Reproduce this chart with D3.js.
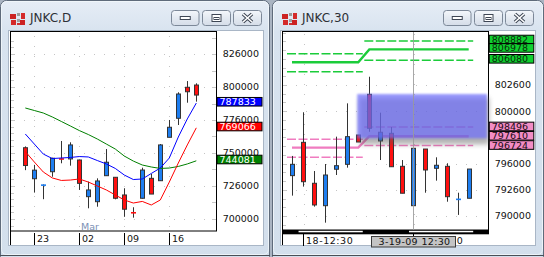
<!DOCTYPE html>
<html>
<head>
<meta charset="utf-8">
<script src="https://cdn.jsdelivr.net/npm/d3@7"></script>
<style>
body { margin: 0; background: #aab4c2; }
svg { display: block; }
text { font-family: "DejaVu Sans", sans-serif; }
</style>
</head>
<body>
<svg id="screen" width="544" height="257"></svg>
<script>
// ---- daily chart data (JNKC,D) ----
var dDates = ['02-20', '02-23', '02-24', '02-25', '02-26', '02-27', '03-02', '03-03', '03-04', '03-05',
              '03-06', '03-09', '03-10', '03-11', '03-12', '03-13', '03-16', '03-17', '03-18', '03-19'];
var dOpen  = [754000, 730500, 725300, 735800, 746000, 745500, 744700, 716900, 713100, 732800,
              731600, 718200, 705100, 715700, 730800, 729000, 761900, 776300, 799800, 801500];
var dHigh  = [755000, 741000, 726200, 746400, 759100, 758100, 745000, 728300, 730800, 753000,
              731800, 723300, 708900, 738900, 734100, 756800, 775000, 796000, 804500, 802800];
var dLow   = [737000, 720000, 715000, 732000, 742200, 740400, 722000, 708100, 709300, 732600,
              714900, 701700, 701000, 715500, 718900, 728800, 761900, 771200, 788100, 788900];
var dClose = [740500, 737000, 726000, 746000, 744900, 756100, 727000, 722000, 728800, 743000,
              715700, 707400, 704300, 737100, 718900, 756100, 769500, 794700, 796400, 793900];
var dMaBlue  = [764400, 756800, 749200, 745800, 746200, 746600, 747300, 747000, 744300, 741700,
                738300, 733300, 729900, 730300, 734500, 738600, 746200, 762100, 775800, 787833];
var dMaRed   = [751100, 743200, 735600, 731100, 729200, 729500, 730300, 728000, 725000, 722000,
                718200, 714400, 712100, 713300, 710600, 714400, 728000, 742400, 756100, 769066];
var dMaGreen = [784100, 782200, 780300, 777300, 773900, 770500, 767000, 764000, 760600, 756800,
                753000, 747700, 743900, 740900, 739400, 738300, 738600, 739800, 741700, 744081];
var dPriceTicks = [700000, 725000, 750000, 775000, 800000, 825000];
var dPriceLabels = ['700000', '726000', '750000', '776000', '800000', '826000'];
var dDateTicks = ['02-23', '03-02', '03-09', '03-16'];
var dDateLabels = ['23', '02', '09', '16'];

// ---- 30 minute chart data (JNKC,30) ----
var mTimes = ['18-10:30', '18-12:30', '18-13:00', '18-13:30', '18-14:00', '18-14:30', '18-15:00',
              '19-09:00', '19-09:30', '19-10:00', '19-10:30', '19-12:30', '19-13:00', '19-13:30',
              '19-14:00', '19-14:30', '19-15:00'];
var mOpen  = [793850, 797030, 793120, 790980, 794460, 794930, 797730, 801610, 797160, 797890,
              794740, 790980, 796390, 794550, 794740, 791570, 791690];
var mHigh  = [795730, 799900, 794290, 794960, 797570, 800750, 797730, 803290, 799860, 798490,
              795340, 796460, 796390, 795600, 795030, 792220, 794480];
var mLow   = [791940, 792800, 790890, 789360, 793910, 794610, 797060, 798040, 795340, 794700,
              792170, 790980, 792220, 793370, 791360, 790100, 791690];
var mClose = [794930, 793270, 791050, 793910, 794800, 797570, 797060, 798370, 797990, 794700,
              792170, 796460, 794390, 794840, 791840, 791600, 794480];
// one level per session
var sessionFirst = ['18-10:30', '19-09:00'];
var sessionLast  = ['18-15:00', '19-15:00'];
var greenUpper = [805490, 806700];
var greenMid   = [804670, 805900];
var greenLower = [803770, 804860];
var pinkUpper  = [797320, 798496];
var pinkMid    = [796520, 797610];
var pinkLower  = [795600, 796724];
var greenTags = ['808882', '806978', '806080'];
var pinkTags  = ['798496', '797610', '796724'];
var pmFirst = ['18-12:30', '19-12:30'];
var pmLast  = ['18-15:00', '19-15:00'];
var mPriceTicks = [790000, 792500, 795000, 800000, 802500];
var mPriceLabels = ['790000', '792600', '796000', '800000', '802600'];
var mTimeTicks = ['18-12:30', '19-12:30'];
var cursorTime = '19-12:30';
var cursorLabel = '3-19-09 12:30';
var zoneStart = '18-15:00';
var zoneHigh = 801640, zoneLow = 797410;

var UP = '#1e7ef0', DOWN = '#ff1010';

var svg = d3.select('#screen');
var defs = svg.append('defs');
var fg = defs.append('linearGradient').attr('id', 'frame').attr('x1', 0).attr('y1', 0).attr('x2', 0).attr('y2', 1);
fg.append('stop').attr('offset', 0).attr('stop-color', '#e6edf6');
fg.append('stop').attr('offset', 0.12).attr('stop-color', '#d8e3ef');
fg.append('stop').attr('offset', 1).attr('stop-color', '#d3dfec');
var bg = defs.append('linearGradient').attr('id', 'btn').attr('x1', 0).attr('y1', 0).attr('x2', 0).attr('y2', 1);
bg.append('stop').attr('offset', 0).attr('stop-color', '#f4f7fb');
bg.append('stop').attr('offset', 0.5).attr('stop-color', '#e3e9f1');
bg.append('stop').attr('offset', 1).attr('stop-color', '#d5dde8');
defs.append('filter').attr('id', 'soft').attr('x', '-10%').attr('y', '-20%').attr('width', '120%').attr('height', '140%')
    .append('feGaussianBlur').attr('stdDeviation', 0.9);
defs.append('filter').attr('id', 'shade').attr('x', '-10%').attr('y', '-30%').attr('width', '120%').attr('height', '160%')
    .append('feGaussianBlur').attr('stdDeviation', 2.5);

// window frame, title bar and buttons
function drawWindow(x0, w, title) {
    var g = svg.append('g').attr('transform', 'translate(' + x0 + ',0)');
    g.append('rect').attr('x', 0.5).attr('y', 0.5).attr('width', w - 1).attr('height', 262)
        .attr('rx', 6).attr('fill', 'url(#frame)').attr('stroke', '#5f6b7b');
    g.append('rect').attr('x', 1.5).attr('y', 1.5).attr('width', w - 3).attr('height', 253)
        .attr('rx', 5).attr('fill', 'none').attr('stroke', '#f3f7fb').attr('stroke-opacity', 0.8);
    g.append('line').attr('x1', 0).attr('x2', w).attr('y1', 255.5).attr('y2', 255.5).attr('stroke', '#4a4f57');
    g.append('rect').attr('x', 8.5).attr('y', 30.5).attr('width', 255).attr('height', 215)
        .attr('fill', '#fff').attr('stroke', '#a9b6c6');

    // icon
    var icon = [[10, 14, 6, 5, '#cc2222'], [17, 13, 3, 3, '#9a9a9a'], [21, 13, 4, 6, '#d42a2a'],
                [11, 20, 5, 5, '#d42a2a'], [17, 19, 3, 3, '#a0a0a0'], [20, 20, 5, 5, '#cc2222'],
                [17, 23, 3, 2, '#c33']];
    icon.forEach(function(r){
        g.append('rect').attr('x', r[0]).attr('y', r[1]).attr('width', r[2]).attr('height', r[3]).attr('fill', r[4]);
    });
    g.append('text').attr('x', 30).attr('y', 21.7).attr('font-size', '12px').attr('fill', '#2d3036').text(title);

    var btns = [171.5, 202.5, 233.5];
    btns.forEach(function(bx, i){
        var bw = i == 0 ? 27.5 : 28;
        g.append('rect').attr('x', bx).attr('y', 10.5).attr('width', bw).attr('height', 15)
            .attr('rx', 3).attr('fill', 'url(#btn)').attr('stroke', '#7c8898');
        var cx = bx + bw / 2;
        if (i == 0) {
            g.append('rect').attr('x', cx - 5).attr('y', 16.5).attr('width', 10).attr('height', 3)
                .attr('fill', '#fff').attr('stroke', '#3e4654');
        } else if (i == 1) {
            g.append('rect').attr('x', cx - 4.5).attr('y', 14.5).attr('width', 9).attr('height', 7)
                .attr('fill', '#fff').attr('stroke', '#3e4654');
            g.append('rect').attr('x', cx - 2.5).attr('y', 17.5).attr('width', 5).attr('height', 2)
                .attr('fill', 'none').attr('stroke', '#3e4654');
        } else {
            var p = 'M' + (cx - 4.5) + ',14 L' + (cx + 4.5) + ',22 M' + (cx + 4.5) + ',14 L' + (cx - 4.5) + ',22';
            g.append('path').attr('d', p).attr('stroke', '#3e4654').attr('stroke-width', 3.6).attr('fill', 'none');
            g.append('path').attr('d', p).attr('stroke', '#fff').attr('stroke-width', 1.6).attr('fill', 'none');
        }
    });
    return g;
}

function drawCandles(g, keys, x, y, o, h, l, c) {
    keys.forEach(function(k, i){
        var cx = Math.round(x(k)) + 0.5;
        var col = c[i] >= o[i] ? UP : DOWN;
        g.append('line').attr('x1', cx).attr('x2', cx).attr('y1', y(h[i])).attr('y2', y(l[i]))
            .attr('stroke', '#333');
        var top = y(Math.max(o[i], c[i])), bot = y(Math.min(o[i], c[i]));
        if (bot - top < 2) {
            g.append('rect').attr('x', cx - 2.5).attr('y', (top + bot) / 2 - 0.8).attr('width', 5).attr('height', 1.6)
                .attr('fill', col);
        } else {
            g.append('rect').attr('x', cx - 2).attr('y', top).attr('width', 4).attr('height', bot - top)
                .attr('fill', col).attr('stroke', '#333');
        }
    });
}

function priceTag(g, x, yy, w, fill, color, txt) {
    g.append('rect').attr('x', x + 0.5).attr('y', yy - 4.8).attr('width', w).attr('height', 8.6)
        .attr('fill', fill).attr('stroke', '#000');
    g.append('text').attr('x', x + 3).attr('y', yy + 3).attr('font-size', '9.5px').attr('fill', color).text(txt);
}

// ================= daily window =================
var w1 = drawWindow(0, 270, 'JNKC,D');
var dx = d3.scalePoint().domain(dDates).range([25.3, 196.3]);
var dy = d3.scaleLinear().domain([690900, 841900]).range([231, 31.7]);

w1.append('rect').attr('x', 10.5).attr('y', 31.5).attr('width', 206).attr('height', 199.5)
    .attr('fill', '#fff').attr('stroke', '#000');
w1.append('line').attr('x1', 10.5).attr('x2', 10.5).attr('y1', 231).attr('y2', 245).attr('stroke', '#000');

// dotted grid and small ticks
w1.selectAll('.hgrid').data(dPriceTicks).enter().append('line')
    .attr('x1', 14).attr('x2', 212).attr('y1', function(d){ return Math.round(dy(d)) + 0.5; })
    .attr('y2', function(d){ return Math.round(dy(d)) + 0.5; })
    .attr('stroke', '#c4c4c4').attr('stroke-dasharray', '1,9');
w1.selectAll('.vgrid').data(dDateTicks).enter().append('line')
    .attr('x1', function(d){ return Math.round(dx(d)) + 0.5; }).attr('x2', function(d){ return Math.round(dx(d)) + 0.5; })
    .attr('y1', 36).attr('y2', 228).attr('stroke', '#c4c4c4').attr('stroke-dasharray', '1,9');
w1.selectAll('.lt').data(d3.range(695000, 840000, 5000)).enter().append('line')
    .attr('x1', 11).attr('x2', 14).attr('y1', function(d){ return Math.round(dy(d)) + 0.5; })
    .attr('y2', function(d){ return Math.round(dy(d)) + 0.5; }).attr('stroke', '#c8c8c8');
w1.selectAll('.rt').data(d3.range(700000, 840000, 12500)).enter().append('line')
    .attr('x1', 212).attr('x2', 216).attr('y1', function(d){ return Math.round(dy(d)) + 0.5; })
    .attr('y2', function(d){ return Math.round(dy(d)) + 0.5; }).attr('stroke', '#c8c8c8');

w1.append('text').attr('x', dx('03-02') + 1.7).attr('y', 230).attr('font-size', '9.5px')
    .attr('fill', '#7b90b5').text('Mar');

drawCandles(w1, dDates, dx, dy, dOpen, dHigh, dLow, dClose);

[[dMaGreen, '#008000'], [dMaBlue, '#0000ff'], [dMaRed, '#ff0000']].forEach(function(s){
    var line = d3.line().x(function(d, i){ return dx(dDates[i]); }).y(function(d){ return dy(d); });
    w1.append('path').datum(s[0]).attr('d', line).attr('fill', 'none').attr('stroke', s[1]).attr('stroke-width', 1);
});

// date axis
dDateTicks.forEach(function(d, i){
    var tx = Math.round(dx(d)) + 0.5;
    w1.append('line').attr('x1', tx).attr('x2', tx).attr('y1', 233).attr('y2', 245).attr('stroke', '#000');
    w1.append('text').attr('x', tx + 2.5).attr('y', 242).attr('font-size', '9.5px').attr('fill', '#111').text(dDateLabels[i]);
});

// price axis
dPriceTicks.forEach(function(d, i){
    w1.append('text').attr('x', 222.7).attr('y', dy(d) + 3.4).attr('font-size', '9.5px').attr('fill', '#111')
        .text(dPriceLabels[i]);
});
var fmt = d3.format('d');
priceTag(w1, 216.5, dy(dMaBlue[19]) - 0.8, 45, '#0000ff', '#fff', fmt(dMaBlue[19]));
priceTag(w1, 216.5, dy(dMaRed[19]) - 0.8, 45, '#ff0000', '#fff', fmt(dMaRed[19]));
priceTag(w1, 216.5, dy(dMaGreen[19]) - 0.8, 45, '#008000', '#fff', fmt(dMaGreen[19]));

// ================= 30 minute window =================
var w2 = drawWindow(272, 272, 'JNKC,30');
var mx = d3.scalePoint().domain(mTimes).range([20, 196.7]);
var my = d3.scaleLinear().domain([788660, 807590]).range([230, 31.7]);

w2.append('rect').attr('x', 10.5).attr('y', 31.5).attr('width', 206).attr('height', 198.5)
    .attr('fill', '#fff').attr('stroke', '#000');

w2.selectAll('.hgrid').data(mPriceTicks).enter().append('line')
    .attr('x1', 14).attr('x2', 212).attr('y1', function(d){ return Math.round(my(d)) + 0.5; })
    .attr('y2', function(d){ return Math.round(my(d)) + 0.5; })
    .attr('stroke', '#c4c4c4').attr('stroke-dasharray', '1,9');
w2.selectAll('.vgrid').data(mTimeTicks).enter().append('line')
    .attr('x1', function(d){ return Math.round(mx(d)) + 1.5; }).attr('x2', function(d){ return Math.round(mx(d)) + 1.5; })
    .attr('y1', 34).attr('y2', 228).attr('stroke', '#c4c4c4').attr('stroke-dasharray', '1,9');
w2.selectAll('.lt').data(d3.range(789166, 807500, 833.3)).enter().append('line')
    .attr('x1', 11).attr('x2', 14).attr('y1', function(d){ return Math.round(my(d)) + 0.5; })
    .attr('y2', function(d){ return Math.round(my(d)) + 0.5; }).attr('stroke', '#c8c8c8');

// session bands
function bandLines(upper, mid, lower, color) {
    sessionFirst.forEach(function(s, i){
        var x1 = mx(s) - 5, x2 = mx(sessionLast[i]) + 4.5;
        [upper[i], lower[i]].forEach(function(v){
            w2.append('line').attr('x1', x1).attr('x2', x2).attr('y1', my(v)).attr('y2', my(v))
                .attr('stroke', color).attr('stroke-width', 1.4).attr('stroke-dasharray', '9,2.5');
        });
    });
    var perBar = mTimes.map(function(t){
        var idx = sessionFirst.length - 1;
        while (idx > 0 && mTimes.indexOf(t) < mTimes.indexOf(sessionFirst[idx])) idx--;
        return mid[idx];
    });
    var line = d3.line().x(function(d, i){ return mx(mTimes[i]); }).y(function(d){ return my(d); });
    w2.append('path').datum(perBar).attr('d', line).attr('fill', 'none')
        .attr('stroke', color).attr('stroke-width', 2.4);
}
bandLines(greenUpper, greenMid, greenLower, '#1bcc3a');
bandLines(pinkUpper, pinkMid, pinkLower, '#f07cc0');

drawCandles(w2, mTimes, mx, my, mOpen, mHigh, mLow, mClose);

// highlighted price zone
var zx = mx(zoneStart) - 1;
w2.append('rect').attr('x', zx + 2).attr('y', my(zoneHigh) + 4).attr('width', 215 - zx)
    .attr('height', my(zoneLow) - my(zoneHigh) + 2).attr('fill', '#555').attr('opacity', 0.45)
    .attr('filter', 'url(#shade)');
w2.append('rect').attr('x', zx).attr('y', my(zoneHigh)).attr('width', 215 - zx)
    .attr('height', my(zoneLow) - my(zoneHigh)).attr('fill', '#6c6cff').attr('opacity', 0.68)
    .attr('filter', 'url(#soft)');

// session marker bar under the plot
w2.append('rect').attr('x', 10).attr('y', 230).attr('width', 207).attr('height', 4.3).attr('fill', '#000');
pmFirst.forEach(function(s, i){
    w2.append('rect').attr('x', mx(s) - 4.5).attr('y', 230.8).attr('width', mx(pmLast[i]) - mx(s) + 9)
        .attr('height', 1.5).attr('fill', '#fff');
});

// cursor line
var cx = Math.round(mx(cursorTime)) + 0.5;
w2.append('line').attr('x1', cx).attr('x2', cx).attr('y1', 32).attr('y2', 230)
    .attr('stroke', '#9a9a9a').attr('opacity', 0.85);

// time axis
w2.append('line').attr('x1', 10.5).attr('x2', 10.5).attr('y1', 230).attr('y2', 245).attr('stroke', '#000');
mTimeTicks.forEach(function(t){
    var tx = Math.round(mx(t)) + 0.5;
    w2.append('line').attr('x1', tx).attr('x2', tx).attr('y1', 234).attr('y2', 246).attr('stroke', '#000');
    w2.append('text').attr('x', tx + 2.5).attr('y', 243.5).attr('font-size', '9.5px').attr('fill', '#111')
        .attr('letter-spacing', '0.55px').text(t);
});
w2.append('rect').attr('x', cx - 42).attr('y', 236.5).attr('width', 84).attr('height', 10.5)
    .attr('fill', '#c4c4c4').attr('stroke', '#3c3c3c');
w2.append('text').attr('x', cx + 1).attr('y', 245).attr('text-anchor', 'middle').attr('font-size', '9.5px')
    .attr('fill', '#111').attr('letter-spacing', '0.35px').text(cursorLabel);

// price axis
mPriceTicks.forEach(function(d, i){
    w2.append('text').attr('x', 222.7).attr('y', my(d) + 3.4).attr('font-size', '9.5px').attr('fill', '#111')
        .text(mPriceLabels[i]);
});
[greenUpper, greenMid, greenLower].forEach(function(s, i){
    priceTag(w2, 216.8, my(s[1]) - 1, 44.5, '#10d030', '#0a2a0a', greenTags[i]);
});
[pinkUpper, pinkMid, pinkLower].forEach(function(s, i){
    priceTag(w2, 216.8, my(s[1]), 44.5, '#f28cc4', '#1a0a14', pinkTags[i]);
});
</script>
</body>
</html>
